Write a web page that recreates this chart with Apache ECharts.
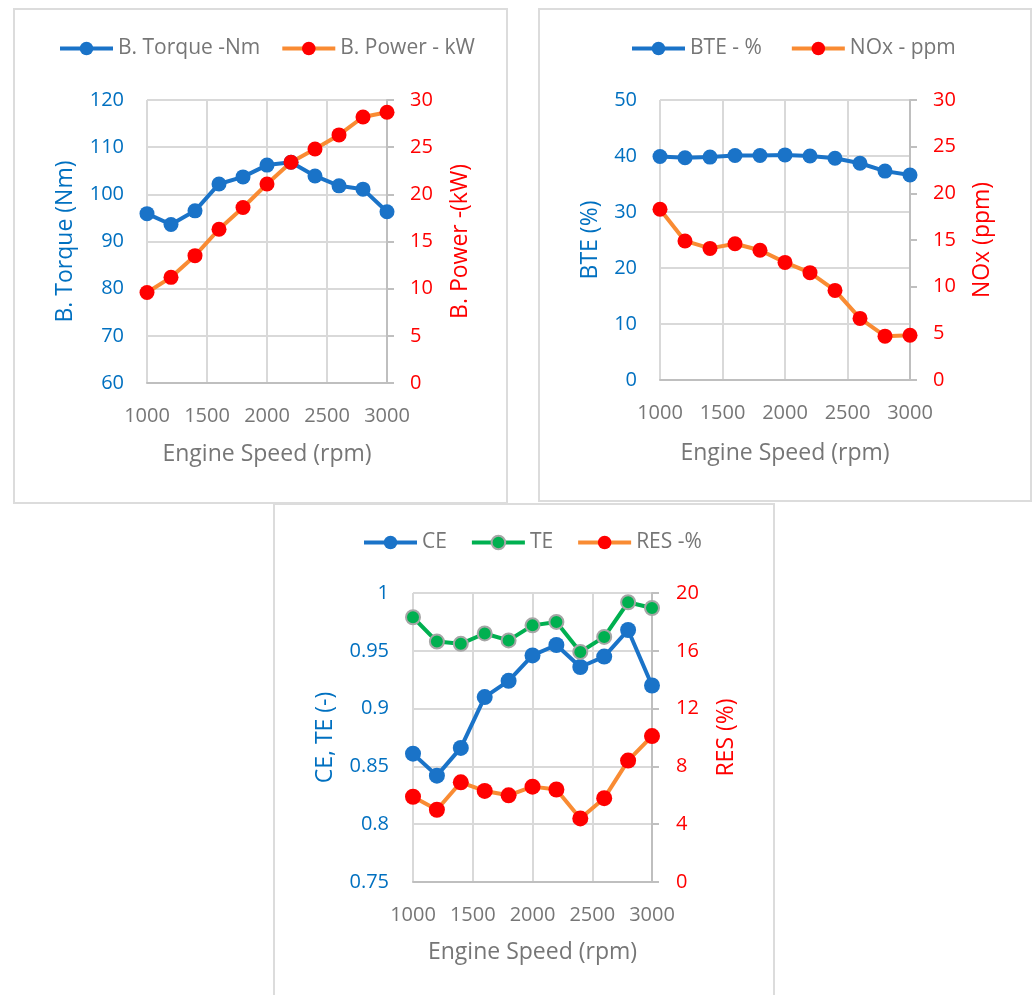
<!DOCTYPE html>
<html>
<head>
<meta charset="utf-8">
<script src="https://cdn.jsdelivr.net/npm/echarts@6/dist/echarts.min.js"></script>
<style>
html,body{margin:0;padding:0;background:#fff;}
#c{width:1035px;height:995px;}
</style>
</head>
<body>
<div id="c"></div>
<script>
// ---- data ----
const speed = [1000, 1200, 1400, 1600, 1800, 2000, 2200, 2400, 2600, 2800, 3000];
const torque = [95.9, 93.6, 96.5, 102.2, 103.7, 106.2, 106.8, 103.9, 101.8, 101.1, 96.3];
const power = [9.6, 11.2, 13.5, 16.3, 18.6, 21.1, 23.4, 24.8, 26.3, 28.2, 28.7];
const bte = [39.9, 39.7, 39.8, 40.1, 40.1, 40.2, 40.0, 39.6, 38.7, 37.3, 36.6];
const nox = [18.3, 14.9, 14.1, 14.6, 13.9, 12.6, 11.5, 9.6, 6.6, 4.7, 4.8];
const ce = [0.861, 0.842, 0.866, 0.910, 0.924, 0.946, 0.955, 0.936, 0.945, 0.968, 0.920];
const te = [0.979, 0.958, 0.956, 0.965, 0.959, 0.972, 0.975, 0.949, 0.962, 0.992, 0.987];
const res = [5.9, 5.0, 6.9, 6.3, 6.0, 6.6, 6.4, 4.4, 5.8, 8.4, 10.1];
const xTitle = 'Engine Speed (rpm)';

// ---- styles ----
const FONT = '"Open Sans", sans-serif';
const GRAY = '#767676';
const BLUE_T = '#0070C0';
const RED_T = '#FF0000';
const BLUE = '#1a73c8';
const ORANGE = '#f98b33';
const RED = '#ff0000';
const GREEN = '#00b050';
const GRID = '#d9d9d9';
const AXIS = '#bfbfbf';

function pts(arr){ return speed.map((s,i)=>[s, arr[i]]); }
const plain = v => String(v);

function xAxis(gi, margin, gap){
  return {
    type:'value', gridIndex:gi, min:1000, max:3000, interval:500,
    axisLine:{show:true, lineStyle:{color:AXIS, width:2}},
    axisTick:{show:false},
    splitLine:{show:true, lineStyle:{color:GRID, width:2}},
    axisLabel:{color:GRAY, fontSize:20, fontFamily:FONT, margin:margin, formatter:plain},
    name:xTitle, nameLocation:'middle', nameGap:gap,
    nameTextStyle:{color:GRAY, fontSize:23, fontFamily:FONT}
  };
}
function yLeft(gi, min, max, interval, name, gap, margin){
  return {
    type:'value', gridIndex:gi, position:'left', min:min, max:max, interval:interval,
    axisLine:{show:false}, axisTick:{show:false},
    splitLine:{show:true, lineStyle:{color:GRID, width:2}},
    axisLabel:{color:BLUE_T, fontSize:20, fontFamily:FONT, margin:margin},
    name:name, nameLocation:'middle', nameGap:gap, nameRotate:90,
    nameTextStyle:{color:BLUE_T, fontSize:23, fontFamily:FONT}
  };
}
function yRight(gi, min, max, interval, name, gap, margin){
  return {
    type:'value', gridIndex:gi, position:'right', min:min, max:max, interval:interval,
    axisLine:{show:true, lineStyle:{color:AXIS, width:2}},
    axisTick:{show:true, inside:false, length:7, lineStyle:{color:AXIS, width:2}},
    splitLine:{show:false},
    axisLabel:{color:RED_T, fontSize:20, fontFamily:FONT, margin:margin},
    name:name, nameLocation:'middle', nameGap:gap, nameRotate:90,
    nameTextStyle:{color:RED_T, fontSize:23, fontFamily:FONT}
  };
}
function line(name, arr, xi, yi, lineColor, markColor, size, border){
  return {
    name:name, type:'line', xAxisIndex:xi, yAxisIndex:yi, data:pts(arr),
    symbol:'circle', symbolSize:size,
    lineStyle:{color:lineColor, width:4},
    itemStyle:{color:markColor, borderColor:border||markColor, borderWidth:border?2:0},
    color:markColor,
    z: 2
  };
}
function legend(names, left, top, gap){
  return {
    data:names, left:left, top:top, itemWidth:53, itemHeight:17, itemGap:gap,
    lineStyle:{width:4},
    textStyle:{color:GRAY, fontSize:21, fontFamily:FONT, padding:[0,0,0,0]},
    padding:0
  };
}

const option = {
  animation:false,
  backgroundColor:'#ffffff',
  graphic:[
    {type:'rect', shape:{x:14, y:9, width:493, height:494}, style:{fill:'#fff', stroke:'#dcdcdc', lineWidth:2}, z:-10},
    {type:'rect', shape:{x:539, y:9, width:492, height:492}, style:{fill:'#fff', stroke:'#dcdcdc', lineWidth:2}, z:-10},
    {type:'rect', shape:{x:274, y:504, width:500, height:500}, style:{fill:'#fff', stroke:'#dcdcdc', lineWidth:2}, z:-10}
  ],
  grid:[
    {left:147, top:100, width:240, height:283},
    {left:660, top:100, width:250, height:280},
    {left:413, top:593, width:239, height:289}
  ],
  legend:[
    legend(['B. Torque -Nm','B. Power - kW'], 58, 38, 20),
    legend(['BTE - %','NOx - ppm'], 630, 38, 28),
    legend(['CE','TE','RES -%'], 362, 532, 23)
  ],
  xAxis:[ xAxis(0, 23, 60), xAxis(1, 23, 62), xAxis(2, 23, 59) ],
  yAxis:[
    yLeft(0, 60, 120, 10, 'B. Torque (Nm)', 70, 23),
    yRight(0, 0, 30, 5, 'B. Power -(kW)', 62, 23),
    yLeft(1, 0, 50, 10, 'BTE (%)', 58, 23),
    yRight(1, 0, 30, 5, 'NOx (ppm)', 61, 23),
    yLeft(2, 0.75, 1, 0.05, 'CE, TE (-)', 76, 24),
    yRight(2, 0, 20, 4, 'RES (%)', 63, 24)
  ],
  series:[
    line('B. Torque -Nm', torque, 0, 0, BLUE, BLUE, 15),
    line('B. Power - kW', power, 0, 1, ORANGE, RED, 15),
    line('BTE - %', bte, 1, 2, BLUE, BLUE, 15),
    line('NOx - ppm', nox, 1, 3, ORANGE, RED, 15),
    line('CE', ce, 2, 4, BLUE, BLUE, 16),
    line('TE', te, 2, 4, GREEN, GREEN, 14, '#a6a6a6'),
    line('RES -%', res, 2, 5, ORANGE, RED, 16)
  ]
};
const chart = echarts.init(document.getElementById('c'), null, {renderer:'canvas'});
chart.setOption(option);
</script>
</body>
</html>
